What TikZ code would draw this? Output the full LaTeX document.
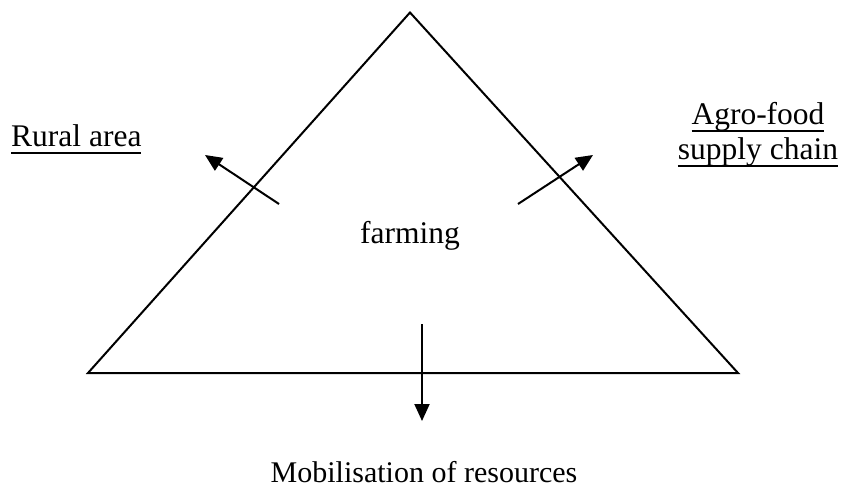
\documentclass[tikz,border=0pt]{standalone}
\usepackage{fontspec}
\setmainfont{Liberation Serif}
\usetikzlibrary{arrows.meta}
% underline with a thicker bar at a fixed distance below the baseline
\newcommand\ulbar[1]{\leavevmode\setbox0\hbox{#1}\rlap{\vrule height -5pt depth 7pt width \wd0}\box0}
\begin{document}
\begin{tikzpicture}[x=1pt,y=-1pt,
  edge/.style={line width=2pt},
  outarrow/.style={line width=2pt,-{Triangle[length=17pt,width=15pt]}},
  label/.style={font=\fontsize{31.5}{36}\selectfont,inner sep=0pt},
  caption/.style={font=\fontsize{30}{34}\selectfont,inner sep=0pt}]
\useasboundingbox (0,0) rectangle (843,489);
% the triangle
\coordinate (top) at (410,12.5);
\coordinate (bl) at (88,373);
\coordinate (br) at (738,373);
\draw[edge,line join=miter] (bl) -- (top) -- (br) -- cycle;
% arrow anchors
\coordinate (lfrom) at (279,204);
\coordinate (lto) at (205,155);
\coordinate (rfrom) at (518,204);
\coordinate (rto) at (593,155);
\coordinate (dfrom) at (422,324);
\coordinate (dto) at (422,421);
\draw[outarrow] (lfrom) -- (lto);
\draw[outarrow] (rfrom) -- (rto);
\draw[outarrow] (dfrom) -- (dto);
% labels
\node[label,anchor=base] (farm) at (410,243) {farming};
\node[label,anchor=base west] (rural) at (11,147) {\ulbar{Rural area}};
\node[label,anchor=base] (agro) at (758,125) {\ulbar{Agro-food}};
\node[label,anchor=base] (chain) at (758,160) {\ulbar{supply chain}};
\node[caption,anchor=base] (mob) at (424,482) {Mobilisation of resources};
\end{tikzpicture}
\end{document}
